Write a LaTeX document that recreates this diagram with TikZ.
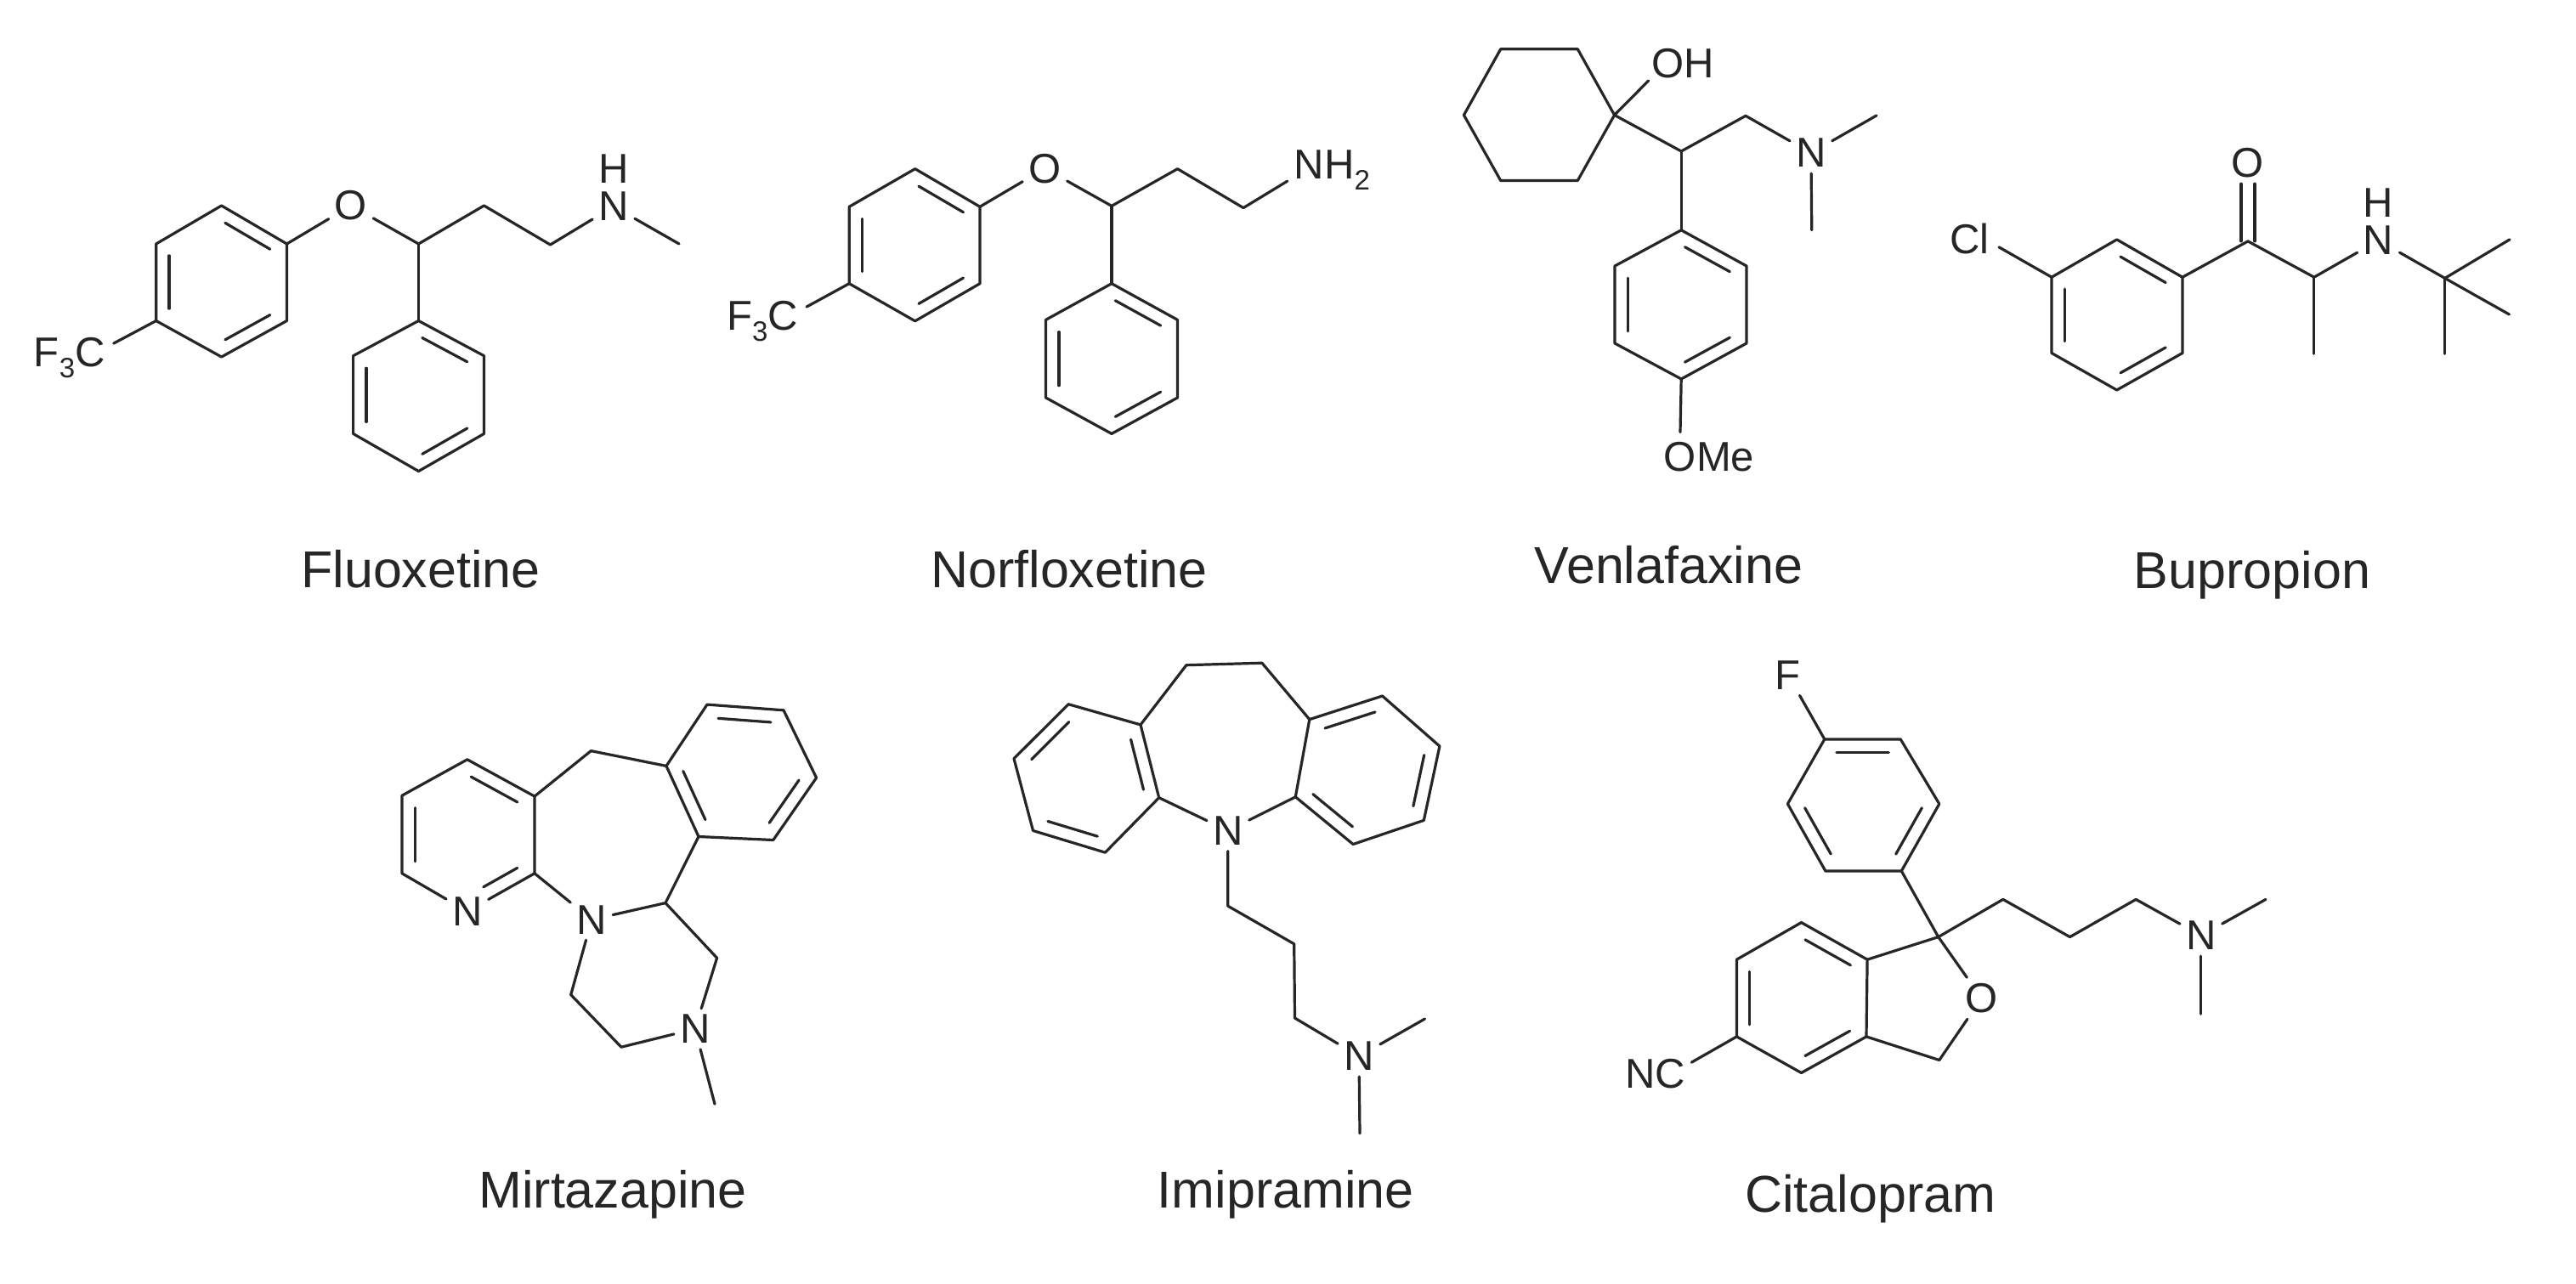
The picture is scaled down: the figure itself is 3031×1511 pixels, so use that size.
\documentclass[tikz,border=0pt]{standalone}
\usepackage{fontspec}
\setmainfont{Liberation Sans}
\usetikzlibrary{calc}
\definecolor{ink}{HTML}{262626}
\newcommand{\subnum}[1]{\raisebox{-.27em}{\fontsize{33}{33}\selectfont #1}}
\newcommand{\ringdb}[3]{\draw[bond] ($($(#1)!.07!(#2)$)!.2!(#3)$) -- ($($(#2)!.07!(#1)$)!.2!(#3)$);}
\newcommand{\hexring}[7]{%
  \draw[bond] (#1) -- (#2) -- (#3) -- (#4) -- (#5) -- (#6) -- cycle;
  \coordinate (#7) at ($(#1)!.5!(#4)$);}
\tikzset{
  bond/.style={draw=ink,line width=3.2pt,line cap=round,line join=round},
  atom/.style={font=\fontsize{49}{55}\selectfont,text=ink,inner sep=7pt},
  molname/.style={font=\fontsize{61}{70}\selectfont,text=ink,inner sep=0pt,anchor=base}
}
\begin{document}
\begin{tikzpicture}[x=1pt,y=-1pt]
\useasboundingbox (0,0) rectangle (3031,1511);
\fill[white] (0,0) rectangle (3031,1511);

% ---------- Fluoxetine
\coordinate (fa1) at (260.6,242); \coordinate (fa2) at (337.5,287); \coordinate (fa3) at (337.5,377.5);
\coordinate (fa4) at (260.6,420); \coordinate (fa5) at (183.7,377.5); \coordinate (fa6) at (183.7,287);
\coordinate (fb1) at (492.5,377.5); \coordinate (fb2) at (569.5,418.7); \coordinate (fb3) at (569.5,510.4);
\coordinate (fb4) at (492.5,554.5); \coordinate (fb5) at (415.6,510.4); \coordinate (fb6) at (415.6,418.7);
\coordinate (fc1) at (492.5,287); \coordinate (fc2) at (569.5,242); \coordinate (fc3) at (647.5,288);
\coordinate (fme) at (799,287);
\node[atom] (fO) at (413,242) {O};
\node[atom] (fN) at (722,243) {N};
\node[atom,inner sep=0pt] (fH) at (722,199) {H};
\node[atom,inner sep=10pt] (fCF) at (81.7,421) {F\subnum{3}C};
\hexring{fa1}{fa2}{fa3}{fa4}{fa5}{fa6}{fac}
\hexring{fb1}{fb2}{fb3}{fb4}{fb5}{fb6}{fbc}
\ringdb{fa1}{fa2}{fac} \ringdb{fa3}{fa4}{fac} \ringdb{fa5}{fa6}{fac}
\ringdb{fb1}{fb2}{fbc} \ringdb{fb3}{fb4}{fbc} \ringdb{fb5}{fb6}{fbc}
\draw[bond] (fa2) -- (fO) -- (fc1) -- (fc2) -- (fc3) -- (fN) -- (fme);
\draw[bond] (fc1) -- (fb1);
\draw[bond] (fa5) -- (fCF.18);
\node[molname] (fname) at (495,691) {Fluoxetine};

% ---------- Norfloxetine
\coordinate (na1) at (1076.7,198.7); \coordinate (na2) at (1153,243.3); \coordinate (na3) at (1153,333.7);
\coordinate (na4) at (1076.7,377.8); \coordinate (na5) at (999.2,333.7); \coordinate (na6) at (999.2,243.3);
\coordinate (nb1) at (1308,333.7); \coordinate (nb2) at (1385.5,376.4); \coordinate (nb3) at (1385.5,468);
\coordinate (nb4) at (1308,510.4); \coordinate (nb5) at (1230.5,468); \coordinate (nb6) at (1230.5,376.4);
\coordinate (nc1) at (1308,242.4); \coordinate (nc2) at (1385.5,198.7); \coordinate (nc3) at (1463,244.6);
\node[atom] (nO) at (1229.4,198.3) {O};
\node[atom,inner sep=8pt] (nNH) at (1567.5,200) {NH\subnum{2}};
\node[atom,inner sep=10pt] (nCF) at (897,378) {F\subnum{3}C};
\hexring{na1}{na2}{na3}{na4}{na5}{na6}{nac}
\hexring{nb1}{nb2}{nb3}{nb4}{nb5}{nb6}{nbc}
\ringdb{na1}{na2}{nac} \ringdb{na3}{na4}{nac} \ringdb{na5}{na6}{nac}
\ringdb{nb1}{nb2}{nbc} \ringdb{nb3}{nb4}{nbc} \ringdb{nb5}{nb6}{nbc}
\draw[bond] (na2) -- (nO) -- (nc1) -- (nc2) -- (nc3) -- (nNH.194);
\draw[bond] (nc1) -- (nb1);
\draw[bond] (na5) -- (nCF.18);
\node[molname] (nname) at (1258,691) {Norfloxetine};

% ---------- Venlafaxine
\coordinate (vh1) at (1765.7,57.8); \coordinate (vh2) at (1856.3,57.8); \coordinate (vh3) at (1899.6,135.4);
\coordinate (vh4) at (1856.3,212.5); \coordinate (vh5) at (1765.7,212.5); \coordinate (vh6) at (1722.4,135.4);
\coordinate (vr1) at (1978.2,270.8); \coordinate (vr2) at (2055,313); \coordinate (vr3) at (2055,404);
\coordinate (vr4) at (1978.2,446); \coordinate (vr5) at (1900,404); \coordinate (vr6) at (1900,313);
\coordinate (vc1) at (1978.2,178); \coordinate (vc2) at (2054,136.3);
\coordinate (vm1) at (2208,135.9); \coordinate (vm2) at (2131.8,270.8);
\node[atom,inner sep=4pt] (vOH) at (1980.6,75) {OH};
\node[atom] (vN) at (2130.9,180) {N};
\node[atom,inner sep=12pt] (vOM) at (2011,538) {OMe};
\hexring{vh1}{vh2}{vh3}{vh4}{vh5}{vh6}{vhc}
\hexring{vr1}{vr2}{vr3}{vr4}{vr5}{vr6}{vrc}
\ringdb{vr1}{vr2}{vrc} \ringdb{vr3}{vr4}{vrc} \ringdb{vr5}{vr6}{vrc}
\draw[bond] (vh3) -- (vOH.206);
\draw[bond] (vh3) -- (vc1) -- (vc2) -- (vN) -- (vm1);
\draw[bond] (vN) -- (vm2);
\draw[bond] (vc1) -- (vr1);
\draw[bond] (vr4) -- (vOM.139);
\node[molname] (vname) at (1963.5,686) {Venlafaxine};

% ---------- Bupropion
\coordinate (br1) at (2490.7,281.9); \coordinate (br2) at (2567.9,326.2); \coordinate (br3) at (2567.9,415.5);
\coordinate (br4) at (2490.7,459); \coordinate (br5) at (2414,415.5); \coordinate (br6) at (2414,326.2);
\coordinate (bco) at (2645,283.9); \coordinate (bca) at (2722.8,326.2); \coordinate (bm0) at (2722.8,416.3);
\coordinate (btb) at (2876.7,327.4); \coordinate (bm1) at (2952.9,281.9); \coordinate (bm2) at (2952.4,370);
\coordinate (bm3) at (2876.7,416.3);
\node[atom] (bO) at (2645,191.7) {O};
\node[atom] (bN) at (2798.5,283) {N};
\node[atom,inner sep=0pt] (bH) at (2798.5,239) {H};
\node[atom,inner sep=11pt] (bCl) at (2317.7,281) {Cl};
\hexring{br1}{br2}{br3}{br4}{br5}{br6}{brc}
\ringdb{br1}{br2}{brc} \ringdb{br3}{br4}{brc} \ringdb{br5}{br6}{brc}
\draw[bond] (br6) -- (bCl.-16);
\draw[bond] (br2) -- (bco) -- (bca) -- (bN) -- (btb) -- (bm1);
\draw[bond] (bca) -- (bm0);
\draw[bond] (btb) -- (bm2);
\draw[bond] (btb) -- (bm3);
\draw[bond] ([xshift=-8pt]bO.south) -- ([xshift=-8pt]bco);
\draw[bond] ([xshift=8pt]bO.south) -- ([xshift=8pt]bco);
\node[molname] (bname) at (2650,692) {Bupropion};

% ---------- Mirtazapine
\coordinate (mp2) at (629,1027.8); \coordinate (mp3) at (629,937.1); \coordinate (mp4) at (549.8,893.8);
\coordinate (mp5) at (473,936.2); \coordinate (mp6) at (473,1027.8);
\coordinate (mc7) at (695.4,883.6);
\coordinate (mb1) at (784,901.4); \coordinate (mb2) at (832,829.1); \coordinate (mb3) at (922,835.8);
\coordinate (mb4) at (960.6,915.3); \coordinate (mb5) at (909.8,988.5); \coordinate (mb6) at (822,984.5);
\coordinate (mch) at (783,1062.6); \coordinate (mq1) at (843.6,1127.3); \coordinate (mq2) at (731,1232.2);
\coordinate (mq3) at (671.7,1170.6); \coordinate (mme) at (841,1299.2);
\node[atom] (mNp) at (549.8,1072.4) {N};
\node[atom] (mNa) at (696.2,1082.2) {N};
\node[atom] (mNb) at (817.8,1210.8) {N};
\coordinate (mpc) at ($(mp4)!.5!(mNp)$);
\hexring{mb1}{mb2}{mb3}{mb4}{mb5}{mb6}{mbc}
\draw[bond] (mNp) -- (mp6) -- (mp5) -- (mp4) -- (mp3) -- (mp2) -- (mNp);
\ringdb{mp3}{mp4}{mpc} \ringdb{mp5}{mp6}{mpc}
\draw[bond] ($($(mNp)!.3!(mp2)$)!.2!(mpc)$) -- ($($(mp2)!.07!(mNp)$)!.2!(mpc)$);
\ringdb{mb1}{mb6}{mbc} \ringdb{mb2}{mb3}{mbc} \ringdb{mb4}{mb5}{mbc}
\draw[bond] (mp3) -- (mc7) -- (mb1);
\draw[bond] (mb6) -- (mch) -- (mNa) -- (mp2);
\draw[bond] (mch) -- (mq1) -- (mNb) -- (mq2) -- (mq3) -- (mNa);
\draw[bond] (mNb) -- (mme);
\node[molname] (mname) at (721,1421.5) {Mirtazapine};

% ---------- Imipramine
\coordinate (il1) at (1342,852.9); \coordinate (il2) at (1257.1,828.7); \coordinate (il3) at (1193,892.7);
\coordinate (il4) at (1215.5,977.5); \coordinate (il5) at (1300.4,1003.2); \coordinate (il6) at (1363.7,938.7);
\coordinate (ir1) at (1540.8,846.6); \coordinate (ir2) at (1626.5,819); \coordinate (ir3) at (1693.9,878.1);
\coordinate (ir4) at (1675.3,965.4); \coordinate (ir5) at (1592.1,993.5); \coordinate (ir6) at (1524.3,937.8);
\coordinate (ic1) at (1395.9,782.7); \coordinate (ic2) at (1484.9,780.2);
\coordinate (id1) at (1444.8,1066.2); \coordinate (id2) at (1522.7,1110.8); \coordinate (id3) at (1523.5,1198);
\coordinate (im1) at (1676.5,1199); \coordinate (im2) at (1600,1333.8);
\node[atom] (iNa) at (1444.8,977.5) {N};
\node[atom] (iNb) at (1599,1243) {N};
\hexring{il1}{il2}{il3}{il4}{il5}{il6}{ilc}
\hexring{ir1}{ir2}{ir3}{ir4}{ir5}{ir6}{irc}
\ringdb{il1}{il6}{ilc} \ringdb{il2}{il3}{ilc} \ringdb{il4}{il5}{ilc}
\ringdb{ir1}{ir2}{irc} \ringdb{ir3}{ir4}{irc} \ringdb{ir5}{ir6}{irc}
\draw[bond] (il1) -- (ic1) -- (ic2) -- (ir1);
\draw[bond] (il6) -- (iNa) -- (ir6);
\draw[bond] (iNa) -- (id1) -- (id2) -- (id3) -- (iNb) -- (im1);
\draw[bond] (iNb) -- (im2);
\node[molname] (iname) at (1512.7,1421) {Imipramine};

% ---------- Citalopram
\coordinate (ca1) at (2146.8,869.9); \coordinate (ca2) at (2236.2,869.9); \coordinate (ca3) at (2281.8,946);
\coordinate (ca4) at (2237.3,1025); \coordinate (ca5) at (2147.9,1025); \coordinate (ca6) at (2103.4,946);
\coordinate (cb1) at (2197.1,1129.2); \coordinate (cb2) at (2119.5,1085.6); \coordinate (cb3) at (2043.4,1129.2);
\coordinate (cb4) at (2043.4,1219.9); \coordinate (cb5) at (2119.5,1262.5); \coordinate (cb6) at (2196,1219.9);
\coordinate (cq) at (2280.7,1102.6); \coordinate (cd1) at (2356.8,1058.4); \coordinate (cd2) at (2435.5,1102.6);
\coordinate (cd3) at (2513.2,1058.4); \coordinate (cm1) at (2665.9,1058.4); \coordinate (cm2) at (2589.8,1193.2);
\coordinate (ch2) at (2281.8,1247.5);
\node[atom] (cF) at (2103.9,794.3) {F};
\node[atom] (cN) at (2589.8,1101) {N};
\node[atom] (cO) at (2331.6,1174.8) {O};
\node[atom] (cNC) at (1947.7,1264) {NC};
\hexring{ca1}{ca2}{ca3}{ca4}{ca5}{ca6}{cac}
\hexring{cb1}{cb2}{cb3}{cb4}{cb5}{cb6}{cbc}
\ringdb{ca1}{ca2}{cac} \ringdb{ca3}{ca4}{cac} \ringdb{ca5}{ca6}{cac}
\ringdb{cb1}{cb2}{cbc} \ringdb{cb3}{cb4}{cbc} \ringdb{cb5}{cb6}{cbc}
\draw[bond] (cF) -- (ca1);
\draw[bond] (ca4) -- (cq) -- (cb1);
\draw[bond] (cq) -- (cO) -- (ch2) -- (cb6);
\draw[bond] (cq) -- (cd1) -- (cd2) -- (cd3) -- (cN) -- (cm1);
\draw[bond] (cN) -- (cm2);
\draw[bond] (cb4) -- (cNC.18);
\node[molname] (cname) at (2200.8,1426.8) {Citalopram};
\end{tikzpicture}
\end{document}
